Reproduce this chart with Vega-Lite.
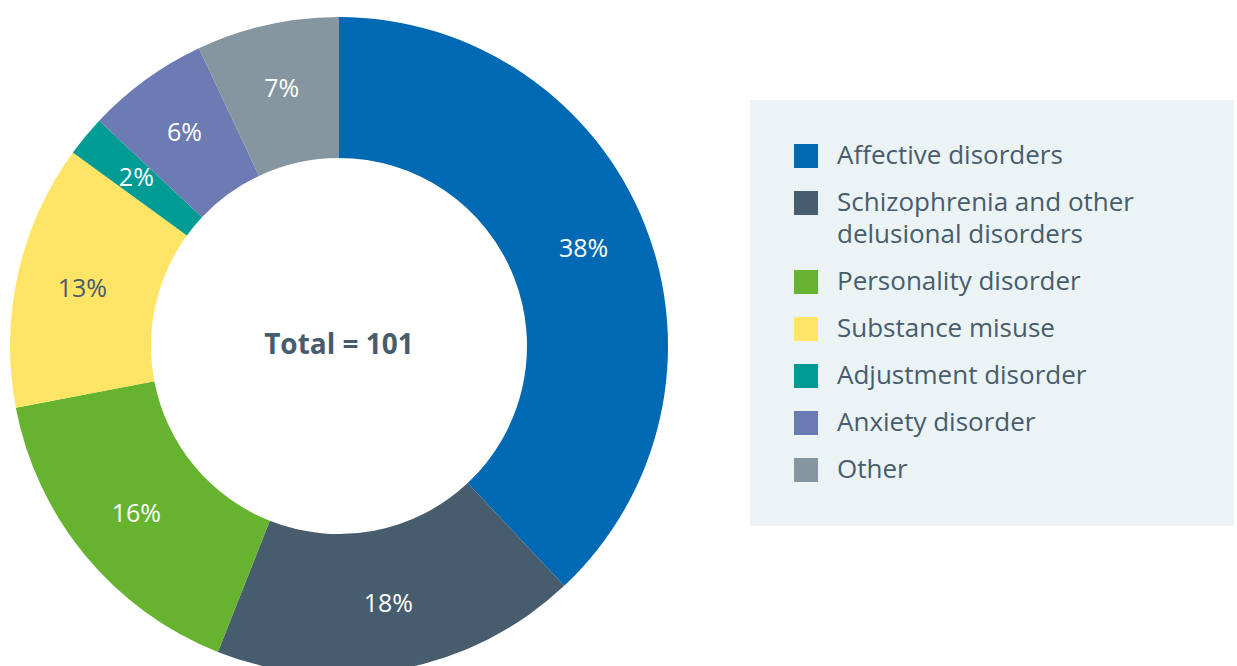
{
  "$schema": "https://vega.github.io/schema/vega-lite/v6.json",
  "width": 678,
  "height": 692,
  "padding": 0,
  "background": "white",
  "config": {"style": {"guide-label": {"lineHeight": 32}}},
  "data": {
    "values": [
      {"cat": "Affective disorders", "value": 38, "ord": 1, "label": "38%"},
      {"cat": "Schizophrenia and other delusional disorders", "value": 18, "ord": 2, "label": "18%"},
      {"cat": "Personality disorder", "value": 16, "ord": 3, "label": "16%"},
      {"cat": "Substance misuse", "value": 13, "ord": 4, "label": "13%"},
      {"cat": "Adjustment disorder", "value": 2, "ord": 5, "label": "2%"},
      {"cat": "Anxiety disorder", "value": 6, "ord": 6, "label": "6%"},
      {"cat": "Other", "value": 7, "ord": 7, "label": "7%"}
    ]
  },
  "encoding": {
    "theta": {"field": "value", "type": "quantitative", "stack": true},
    "order": {"field": "ord", "type": "quantitative"}
  },
  "layer": [
    {
      "mark": {"type": "arc", "outerRadius": 329, "innerRadius": 188, "stroke": null},
      "encoding": {
        "color": {
          "field": "cat",
          "type": "nominal",
          "sort": ["Affective disorders", "Schizophrenia and other delusional disorders", "Personality disorder", "Substance misuse", "Adjustment disorder", "Anxiety disorder", "Other"],
          "scale": {
            "domain": ["Affective disorders", "Schizophrenia and other delusional disorders", "Personality disorder", "Substance misuse", "Adjustment disorder", "Anxiety disorder", "Other"],
            "range": ["#0069b4", "#475c6d", "#65b32e", "#ffe466", "#009c94", "#6c7bb3", "#8696a0"]
          },
          "legend": {
            "title": ".",
            "titleOrient": "right",
            "titleOpacity": 0,
            "titleFontSize": 4,
            "titlePadding": 55,
            "orient": "none",
            "legendX": 750,
            "legendY": 100,
            "padding": 43,
            "fillColor": "#ebf3f5",
            "strokeColor": null,
            "symbolType": "square",
            "symbolSize": 576,
            "symbolStrokeWidth": 0,
            "symbolOpacity": 1,
            "labelFont": "Open Sans",
            "labelFontSize": 26,
            "labelColor": "#475c6d",
            "labelOffset": 18,
            "labelLimit": 500,
            "labelBaseline": "middle",
            "rowPadding": 21,
            "labelExpr": "datum.label == 'Schizophrenia and other delusional disorders' ? ['Schizophrenia and other', 'delusional disorders'] : datum.label"
          }
        }
      }
    },
    {
      "mark": {"type": "text", "radius": 263, "font": "Open Sans", "fontSize": 25},
      "encoding": {
        "text": {"field": "label"},
        "color": {
          "condition": {"test": "datum.cat === 'Substance misuse'", "value": "#475c6d"},
          "value": "white"
        }
      }
    },
    {
      "data": {"values": [{"t": "Total = 101"}]},
      "mark": {"type": "text", "font": "Open Sans", "fontSize": 28, "fontWeight": "bold", "color": "#475c6d"},
      "encoding": {
        "text": {"field": "t"},
        "theta": null,
        "order": null
      }
    }
  ]
}
